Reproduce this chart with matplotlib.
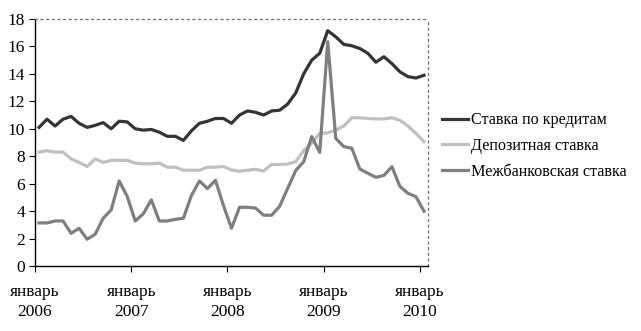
import matplotlib
matplotlib.use("Agg")
import matplotlib.pyplot as plt
import numpy as np

plt.rcParams['font.family'] = ['Liberation Serif', 'DejaVu Serif']

# monthly values, Jan 2006 .. Jan 2010
credit = [10.1, 10.7, 10.2, 10.7, 10.9, 10.4, 10.1, 10.25, 10.45, 10.0, 10.55, 10.5,
          10.0, 9.9, 9.95, 9.75, 9.45, 9.45, 9.15, 9.85, 10.4, 10.55, 10.75, 10.75,
          10.4, 11.0, 11.3, 11.2, 11.0, 11.3, 11.35, 11.8, 12.6, 14.0, 15.0, 15.5,
          17.15, 16.7, 16.15, 16.05, 15.85, 15.5, 14.85, 15.25, 14.75, 14.15, 13.8, 13.7,
          13.9]
deposit = [8.3, 8.4, 8.3, 8.3, 7.8, 7.55, 7.25, 7.8, 7.55, 7.7, 7.7, 7.7,
           7.5, 7.45, 7.45, 7.5, 7.2, 7.2, 6.98, 6.98, 6.98, 7.2, 7.2, 7.25,
           7.0, 6.9, 6.98, 7.05, 6.92, 7.4, 7.4, 7.43, 7.6, 8.4, 8.95, 9.67,
           9.7, 9.9, 10.2, 10.8, 10.8, 10.75, 10.72, 10.72, 10.8, 10.62, 10.2, 9.67,
           9.06]
interbank = [3.14, 3.14, 3.28, 3.28, 2.38, 2.75, 1.95, 2.31, 3.48, 4.09, 6.2, 5.06,
             3.28, 3.8, 4.82, 3.28, 3.28, 3.4, 3.48, 5.13, 6.2, 5.64, 6.25, 4.4,
             2.75, 4.28, 4.28, 4.22, 3.7, 3.7, 4.35, 5.65, 6.95, 7.6, 9.43, 8.28,
             16.35, 9.3, 8.7, 8.58, 7.07, 6.76, 6.46, 6.6, 7.24, 5.8, 5.3, 5.05,
             4.0]
series_names = ['Ставка по кредитам', 'Депозитная ставка', 'Межбанковская ставка']
tick_labels = ['январь\n2006', 'январь\n2007', 'январь\n2008', 'январь\n2009', 'январь\n2010']

fig = plt.figure(figsize=(6.41, 3.31), dpi=100)
ax = fig.add_axes([35/641, 1-266/331, 393/641, 247/331])

x = np.arange(len(credit)) + 0.5
ax.plot(x, credit, color='#353535', lw=2.3, label=series_names[0])
ax.plot(x, deposit, color='#c0c0c0', lw=2.3, label=series_names[1])
ax.plot(x, interbank, color='#7f7f7f', lw=2.3, label=series_names[2])

ax.set_xlim(0, len(credit))
ax.set_ylim(0, 18)
ax.set_yticks(range(0, 19, 2))
ax.set_xticks([0, 12, 24, 36, 48])
ax.set_xticklabels(tick_labels, fontsize=12.5, linespacing=1.3)
ax.tick_params(axis='y', labelsize=12.5, length=4, direction='out', pad=3)
ax.tick_params(axis='x', length=4, direction='out', pad=9)

for s in ['top', 'right']:
    ax.spines[s].set_linestyle((0, (1.5, 3)))
    ax.spines[s].set_color('#707070')
    ax.spines[s].set_linewidth(0.9)
for s in ['left', 'bottom']:
    ax.spines[s].set_color('black')
    ax.spines[s].set_linewidth(1.0)

ax.legend(loc='center left', bbox_to_anchor=(1.035, 0.486), frameon=False,
          fontsize=11.6, handlelength=1.65, handletextpad=0.15, labelspacing=0.6,
          borderpad=0, borderaxespad=0)

fig.savefig('out.png', dpi=100)
